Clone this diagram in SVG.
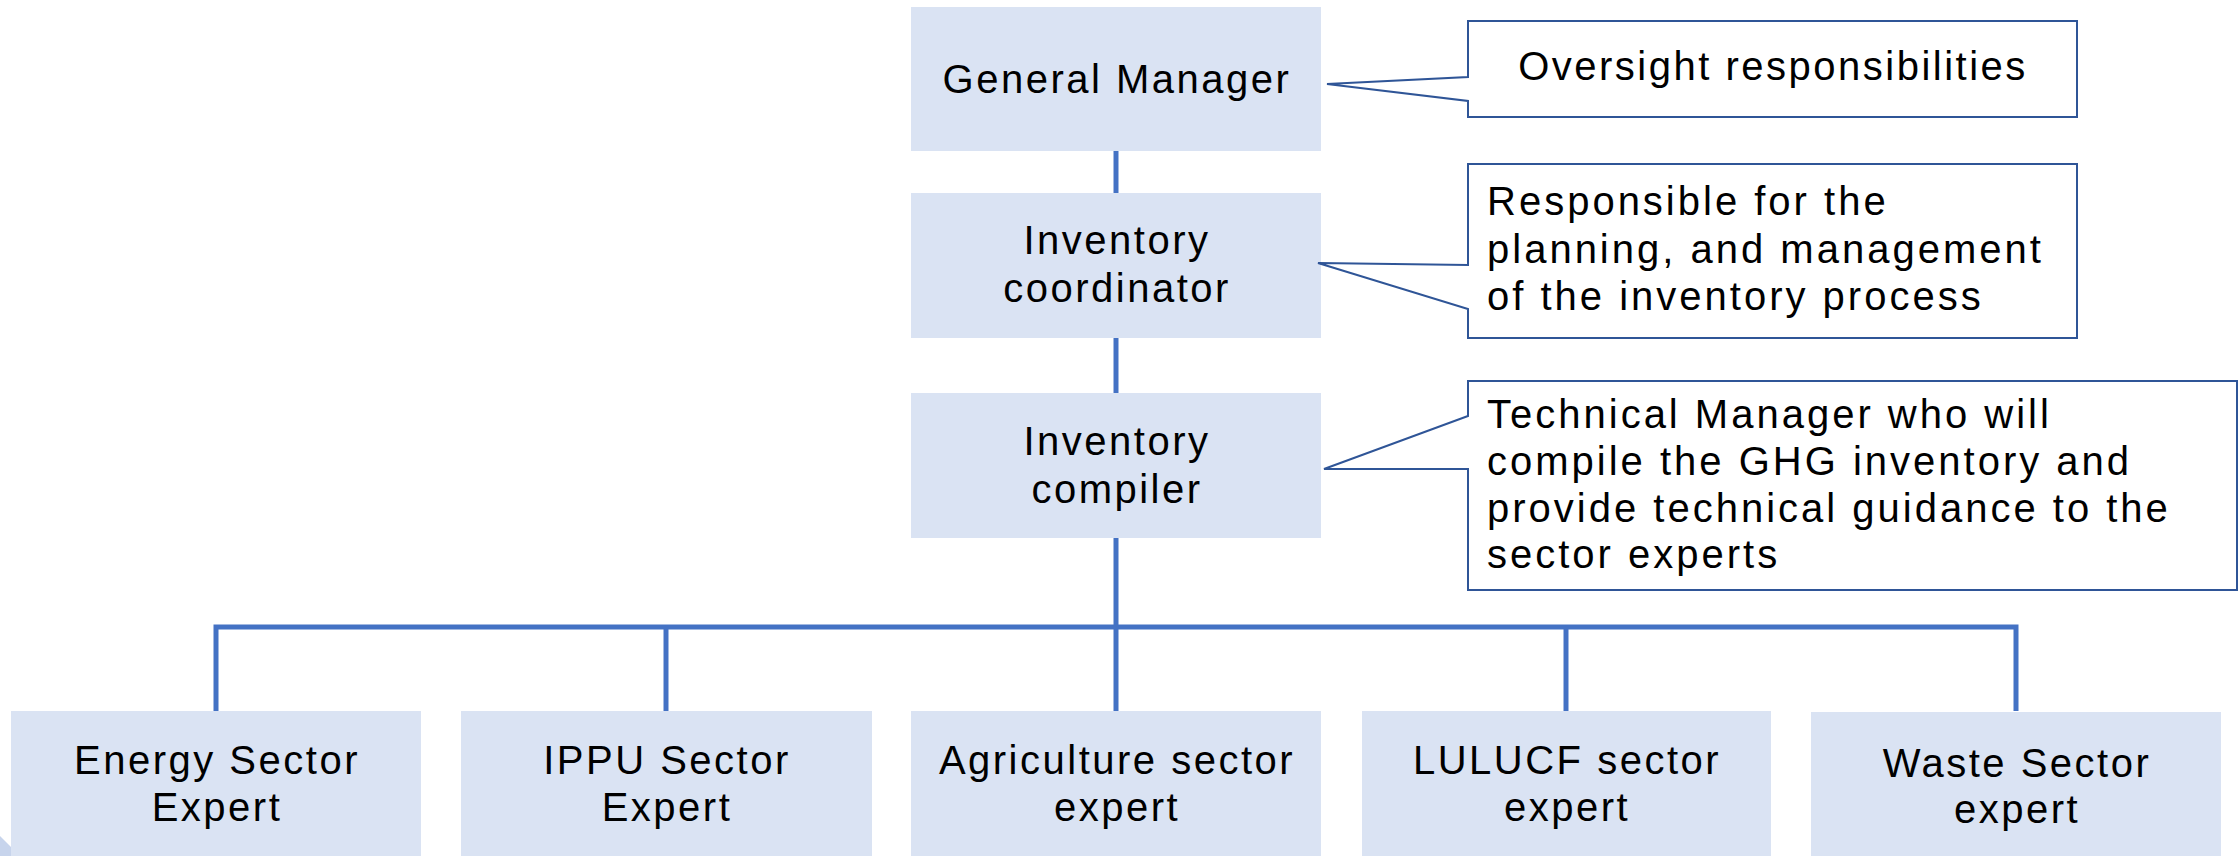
<svg xmlns="http://www.w3.org/2000/svg" width="2239" height="856" viewBox="0 0 2239 856">
<style>
.box{fill:#DAE3F3;stroke:none}
.t{font-family:"Liberation Sans",Arial,sans-serif;font-size:40px;fill:#000;letter-spacing:2.5px}
.c{text-anchor:middle}
.l{letter-spacing:3px}
.call{fill:#fff;stroke:#2F5597;stroke-width:2;stroke-linejoin:miter}
.conn{fill:none;stroke:#4472C4;stroke-width:5}
</style>
<rect width="2239" height="856" fill="#fff"/>
<polygon points="0,836 12,848 12,856 0,856" fill="#C7D4EC"/>
<g id="connectors">
<line class="conn" x1="1116" y1="151" x2="1116" y2="193"/>
<line class="conn" x1="1116" y1="338" x2="1116" y2="393"/>
<line class="conn" x1="1116" y1="538" x2="1116" y2="711"/>
<polyline class="conn" points="216,711 216,627 2016,627 2016,711"/>
<line class="conn" x1="666" y1="627" x2="666" y2="711"/>
<line class="conn" x1="1566" y1="627" x2="1566" y2="711"/>
</g>
<g id="general-manager">
<rect class="box" x="911" y="7" width="410" height="144"/>
<text class="t c" x="1117" y="93">General Manager</text>
</g>
<g id="inventory-coordinator">
<rect class="box" x="911" y="193" width="410" height="145"/>
<text class="t c" x="1117" y="254">Inventory</text>
<text class="t c" x="1117" y="302">coordinator</text>
</g>
<g id="inventory-compiler">
<rect class="box" x="911" y="393" width="410" height="145"/>
<text class="t c" x="1117" y="455">Inventory</text>
<text class="t c" x="1117" y="503">compiler</text>
</g>
<g id="callout-oversight">
<path class="call" d="M1468,21 H2077 V117 H1468 V101 L1327,84 L1468,77 Z"/>
<text class="t c" x="1773" y="80">Oversight responsibilities</text>
</g>
<g id="callout-coordinator">
<path class="call" d="M1468,164 H2077 V338 H1468 V309 L1318,263 L1468,265 Z"/>
<text class="t l" x="1487" y="215">Responsible for the</text>
<text class="t l" x="1487" y="263">planning, and management</text>
<text class="t l" x="1487" y="310">of the inventory process</text>
</g>
<g id="callout-compiler">
<path class="call" d="M1468,381 H2237 V590 H1468 V469 L1324,469 L1468,416 Z"/>
<text class="t l" x="1487" y="428">Technical Manager who will</text>
<text class="t l" x="1487" y="475">compile the GHG inventory and</text>
<text class="t l" x="1487" y="522">provide technical guidance to the</text>
<text class="t l" x="1487" y="568">sector experts</text>
</g>
<g id="energy">
<rect class="box" x="11" y="711" width="410" height="146"/>
<text class="t c" x="217" y="774">Energy Sector</text>
<text class="t c" x="217" y="821">Expert</text>
</g>
<g id="ippu">
<rect class="box" x="461" y="711" width="411" height="146"/>
<text class="t c" x="667" y="774">IPPU Sector</text>
<text class="t c" x="667" y="821">Expert</text>
</g>
<g id="agriculture">
<rect class="box" x="911" y="711" width="410" height="146"/>
<text class="t c" x="1117" y="774">Agriculture sector</text>
<text class="t c" x="1117" y="821">expert</text>
</g>
<g id="lulucf">
<rect class="box" x="1362" y="711" width="409" height="146"/>
<text class="t c" x="1567" y="774">LULUCF sector</text>
<text class="t c" x="1567" y="821">expert</text>
</g>
<g id="waste">
<rect class="box" x="1811" y="712" width="410" height="145"/>
<text class="t c" x="2017" y="777">Waste Sector</text>
<text class="t c" x="2017" y="823">expert</text>
</g>
</svg>
